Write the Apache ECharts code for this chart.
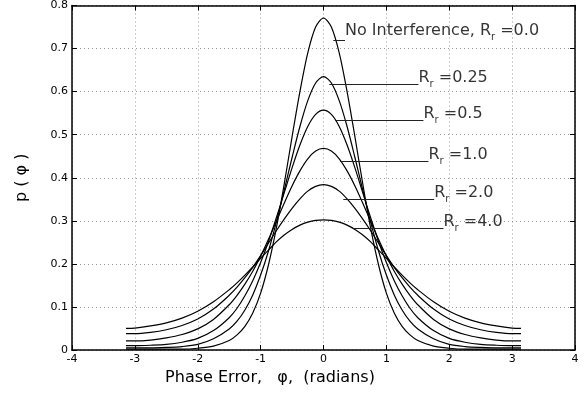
<!DOCTYPE html>
<html>
<head>
<meta charset="utf-8">
<script src="https://cdn.jsdelivr.net/npm/echarts@6/dist/echarts.min.js"></script>
<style>
  html, body { margin: 0; padding: 0; background: #fff; }
  #phaseChart { width: 587px; height: 395px; }
</style>
</head>
<body>
<div id="phaseChart"></div>
<script>
// phase error samples (radians), -pi .. pi
const phase = [-3.1416, -3, -2.75, -2.5, -2.25, -2, -1.75, -1.5, -1.375, -1.25, -1.125, -1, -0.875, -0.75, -0.625, -0.5, -0.375, -0.25, -0.125, 0,
  0.125, 0.25, 0.375, 0.5, 0.625, 0.75, 0.875, 1, 1.125, 1.25, 1.375, 1.5, 1.75, 2, 2.25, 2.5, 2.75, 3, 3.1416];

// p(phi), one list per Rr
const pR0 = [0.002, 0.002, 0.002, 0.002, 0.002, 0.004, 0.009, 0.022, 0.035, 0.055, 0.086, 0.132, 0.198, 0.283, 0.385, 0.495, 0.600, 0.690, 0.750, 0.771,
  0.750, 0.690, 0.600, 0.495, 0.385, 0.283, 0.198, 0.132, 0.086, 0.055, 0.035, 0.022, 0.009, 0.004, 0.002, 0.002, 0.002, 0.002, 0.002];
const pR025 = [0.005, 0.005, 0.005, 0.006, 0.008, 0.013, 0.026, 0.049, 0.067, 0.093, 0.128, 0.174, 0.230, 0.297, 0.371, 0.447, 0.519, 0.579, 0.620, 0.635,
  0.620, 0.579, 0.519, 0.447, 0.371, 0.297, 0.230, 0.174, 0.128, 0.093, 0.067, 0.049, 0.026, 0.013, 0.008, 0.006, 0.005, 0.005, 0.005];
const pR05 = [0.010, 0.010, 0.011, 0.013, 0.018, 0.027, 0.045, 0.075, 0.097, 0.126, 0.161, 0.203, 0.252, 0.307, 0.365, 0.423, 0.476, 0.519, 0.547, 0.557,
  0.547, 0.519, 0.476, 0.423, 0.365, 0.307, 0.252, 0.203, 0.161, 0.126, 0.097, 0.075, 0.045, 0.027, 0.018, 0.013, 0.011, 0.010, 0.010];
const pR1 = [0.021, 0.021, 0.023, 0.028, 0.036, 0.049, 0.071, 0.105, 0.127, 0.153, 0.183, 0.218, 0.257, 0.299, 0.341, 0.381, 0.416, 0.444, 0.462, 0.468,
  0.462, 0.444, 0.416, 0.381, 0.341, 0.299, 0.257, 0.218, 0.183, 0.153, 0.127, 0.105, 0.071, 0.049, 0.036, 0.028, 0.023, 0.021, 0.021];
const pR2 = [0.038, 0.038, 0.041, 0.047, 0.057, 0.072, 0.095, 0.127, 0.146, 0.168, 0.192, 0.219, 0.248, 0.277, 0.304, 0.329, 0.351, 0.369, 0.380, 0.384,
  0.380, 0.369, 0.351, 0.329, 0.304, 0.277, 0.248, 0.219, 0.192, 0.168, 0.146, 0.127, 0.095, 0.072, 0.057, 0.047, 0.041, 0.038, 0.038];
const pR4 = [0.050, 0.051, 0.056, 0.063, 0.074, 0.090, 0.112, 0.140, 0.156, 0.174, 0.193, 0.213, 0.232, 0.251, 0.267, 0.280, 0.290, 0.297, 0.301, 0.302,
  0.301, 0.297, 0.290, 0.280, 0.267, 0.251, 0.232, 0.213, 0.193, 0.174, 0.156, 0.140, 0.112, 0.090, 0.074, 0.063, 0.056, 0.051, 0.050];

const curves = [pR0, pR025, pR05, pR1, pR2, pR4];

// annotation texts (prefix before Rr, value after)
const notePrefix = ['No Interference, ', '', '', '', '', ''];
const noteValue = ['0.0', '0.25', '0.5', '1.0', '2.0', '4.0'];
// leader lines in data units: start x, end x, y ; text anchor y
const leaderX0 = [0.156, 0.092, 0.183, 0.262, 0.315, 0.474];
const leaderX1 = [0.342, 1.510, 1.589, 1.669, 1.760, 1.908];
const leaderY = [0.720, 0.616, 0.533, 0.438, 0.349, 0.282];
const textY = [0.740, 0.631, 0.548, 0.453, 0.364, 0.297];

const font = '"DejaVu Sans", "Liberation Sans", sans-serif';

const series = curves.map((vals, i) => ({
  type: 'line',
  data: phase.map((x, k) => [x, vals[k]]),
  showSymbol: false,
  smooth: 0.3,
  lineStyle: { color: '#000', width: 1.2 },
  silent: true,
  z: 3,
  markLine: {
    silent: true,
    symbol: 'none',
    label: { show: false },
    lineStyle: { color: '#222', width: 1, type: 'solid' },
    data: [[{ coord: [leaderX0[i], leaderY[i]] }, { coord: [leaderX1[i], leaderY[i]] }]]
  }
}));

series.push({
  type: 'scatter',
  symbolSize: 0,
  silent: true,
  data: noteValue.map((v, i) => [leaderX1[i], textY[i]]),
  label: {
    show: true,
    position: 'right',
    distance: 0,
    color: '#000',
    formatter: p => '{n|' + notePrefix[p.dataIndex] + 'R}{s|r}{n| =' + noteValue[p.dataIndex] + '}',
    rich: {
      n: { fontFamily: font, fontSize: 16, color: '#000', lineHeight: 22, verticalAlign: 'middle' },
      s: { fontFamily: font, fontSize: 10, color: '#000', lineHeight: 22, verticalAlign: 'bottom' }
    }
  }
});

const tickFont = { fontFamily: font, fontSize: 11, color: '#000' };
const gridDots = { type: [1, 3], color: '#999', width: 1 };

const option = {
  animation: false,
  backgroundColor: '#fff',
  grid: { left: 72, right: 12, top: 5, bottom: 45 },
  xAxis: [
    {
      type: 'value', min: -4, max: 4, interval: 1,
      name: 'Phase Error,   \u03c6,  (radians)',
      nameLocation: 'middle', nameGap: 16,
      nameTextStyle: { fontFamily: font, fontSize: 16, color: '#000', padding: [0, 107, 0, 0] },
      axisLine: { onZero: false, lineStyle: { color: '#000', width: 1.5 } },
      axisTick: { inside: true, length: 5, lineStyle: { color: '#000' } },
      axisLabel: { ...tickFont, margin: 4 },
      splitLine: { show: true, lineStyle: gridDots }
    },
    {
      type: 'value', min: -4, max: 4, interval: 1, position: 'top',
      axisLine: { onZero: false, lineStyle: { color: '#000', width: 1.5 } },
      axisTick: { inside: true, length: 5, lineStyle: { color: '#000' } },
      axisLabel: { show: false },
      splitLine: { show: false }
    }
  ],
  yAxis: [
    {
      type: 'value', min: 0, max: 0.8, interval: 0.1,
      name: 'p ( \u03c6 )',
      nameLocation: 'middle', nameGap: 42,
      nameTextStyle: { fontFamily: font, fontSize: 16, color: '#000' },
      axisLine: { show: true, onZero: false, lineStyle: { color: '#000', width: 1.5 } },
      axisTick: { show: true, inside: true, length: 5, lineStyle: { color: '#000' } },
      axisLabel: { ...tickFont, margin: 4 },
      splitLine: { show: true, lineStyle: gridDots }
    },
    {
      type: 'value', min: 0, max: 0.8, interval: 0.1, position: 'right',
      axisLine: { show: true, onZero: false, lineStyle: { color: '#000', width: 1.5 } },
      axisTick: { show: true, inside: true, length: 5, lineStyle: { color: '#000' } },
      axisLabel: { show: false },
      splitLine: { show: false }
    }
  ],
  series: series
};

const chart = echarts.init(document.getElementById('phaseChart'));
chart.setOption(option);
</script>
</body>
</html>
